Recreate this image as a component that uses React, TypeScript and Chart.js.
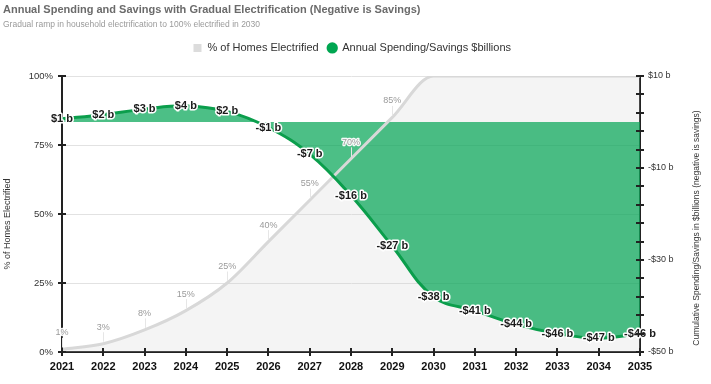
import React, { useEffect, useRef } from 'react';
import { Chart, registerables } from 'chart.js';

Chart.register(...registerables);

const FONT = '"Liberation Sans", Arial, sans-serif';

const TITLE = 'Annual Spending and Savings with Gradual Electrification (Negative is Savings)';
const SUBTITLE = 'Gradual ramp in household electrification to 100% electrified in 2030';
const LEFT_AXIS_TITLE = '% of Homes Electrified';
const RIGHT_AXIS_TITLE = 'Cumulative Spending/Savings in $billions (negative is savings)';

const years = ['2021', '2022', '2023', '2024', '2025', '2026', '2027', '2028', '2029', '2030', '2031', '2032', '2033', '2034', '2035'];
const pctElectrified = [1, 3, 8, 15, 25, 40, 55, 70, 85, 100, 100, 100, 100, 100, 100];
const annualSavings = [0.7, 1.6, 2.8, 3.5, 2.3, -1.2, -7, -16, -27, -38, -41, -44, -46, -47, -46];
const seriesNames = ['% of Homes Electrified', 'Annual Spending/Savings $billions'];
const rightTickLabels = [10, -10, -30, -50];

const GRAY_LINE = '#d8d8d8';
const GRAY_FILL = 'rgba(205,205,205,0.22)';
const GREEN_LINE = '#0b9e4c';
const GREEN_FILL = 'rgba(0,164,82,0.70)';
const legendColors = ['#dcdcdc', '#00a651'];

const fmtBillions = (v: number) => `${v < 0 ? '-' : ''}$${Math.abs(v)} b`;

const overlayPlugin = {
  id: 'overlay',
  afterDatasetsDraw(chart: any) {
    const ctx = chart.ctx;
    const pctMeta = chart.getDatasetMeta(0);
    const savMeta = chart.getDatasetMeta(1);
    ctx.save();
    ctx.textAlign = 'center';
    ctx.textBaseline = 'middle';
    ctx.lineJoin = 'round';
    // percent labels with leader lines
    ctx.font = `9px ${FONT}`;
    pctMeta.data.forEach((pt: any, i: number) => {
      const v = pctElectrified[i];
      if (v >= 100) return;
      const { x, y } = pt;
      ctx.strokeStyle = '#e6e6e6';
      ctx.lineWidth = 1;
      ctx.beginPath();
      ctx.moveTo(Math.round(x) + 0.5, y - 2);
      ctx.lineTo(Math.round(x) + 0.5, y - 11.5);
      ctx.stroke();
      ctx.strokeStyle = 'rgba(255,255,255,0.95)';
      ctx.lineWidth = 2.5;
      ctx.strokeText(`${v}%`, x, y - 16.5);
      ctx.fillStyle = '#9a9a9a';
      ctx.fillText(`${v}%`, x, y - 16.5);
    });
    // savings labels
    ctx.font = `bold 11px ${FONT}`;
    savMeta.data.forEach((pt: any, i: number) => {
      const t = fmtBillions(Math.round(annualSavings[i]));
      ctx.strokeStyle = '#ffffff';
      ctx.lineWidth = 3;
      ctx.strokeText(t, pt.x, pt.y);
      ctx.fillStyle = '#1b1b1b';
      ctx.fillText(t, pt.x, pt.y);
    });
    ctx.restore();
  },
  afterDraw(chart: any) {
    const ctx = chart.ctx;
    const { x, y, y1 } = chart.scales;
    ctx.save();
    ctx.strokeStyle = '#222';
    ctx.lineWidth = 2;
    ctx.beginPath();
    y.ticks.forEach((_: any, i: number) => {
      const p = Math.round(y.getPixelForTick(i));
      ctx.moveTo(y.right - 4, p);
      ctx.lineTo(y.right + 4, p);
    });
    y1.ticks.forEach((_: any, i: number) => {
      const p = Math.round(y1.getPixelForTick(i));
      ctx.moveTo(y1.left - 4, p);
      ctx.lineTo(y1.left + 4, p);
    });
    x.ticks.forEach((_: any, i: number) => {
      const p = Math.round(x.getPixelForTick(i));
      ctx.moveTo(p, x.top - 4);
      ctx.lineTo(p, x.top + 4);
    });
    ctx.stroke();
    // axis titles
    ctx.fillStyle = '#333';
    ctx.textAlign = 'center';
    ctx.textBaseline = 'middle';
    ctx.font = `9px ${FONT}`;
    ctx.translate(8, 224);
    ctx.rotate(-Math.PI / 2);
    ctx.fillText(LEFT_AXIS_TITLE, 0, 0);
    ctx.restore();
    ctx.save();
    ctx.fillStyle = '#333';
    ctx.textAlign = 'center';
    ctx.textBaseline = 'middle';
    ctx.font = `8.5px ${FONT}`;
    ctx.translate(697, 228);
    ctx.rotate(-Math.PI / 2);
    ctx.fillText(RIGHT_AXIS_TITLE, 0, 0);
    ctx.restore();
  },
};

export default function App() {
  const ref = useRef<HTMLCanvasElement | null>(null);
  useEffect(() => {
    if (!ref.current) return;
    const chart = new Chart(ref.current, {
      type: 'line',
      data: {
        labels: years,
        datasets: [
          {
            label: seriesNames[0],
            data: pctElectrified,
            yAxisID: 'y',
            borderColor: GRAY_LINE,
            backgroundColor: GRAY_FILL,
            borderWidth: 3,
            fill: 'origin',
            pointRadius: 0,
            cubicInterpolationMode: 'monotone',
            order: 1,
          },
          {
            label: seriesNames[1],
            data: annualSavings,
            yAxisID: 'y1',
            borderColor: GREEN_LINE,
            backgroundColor: GREEN_FILL,
            borderWidth: 3,
            fill: 'origin',
            pointRadius: 0,
            tension: 0.4,
            order: 0,
          },
        ],
      },
      options: {
        animation: false,
        responsive: true,
        maintainAspectRatio: false,
        layout: { padding: { left: 3, right: 10, top: 0, bottom: 0 } },
        plugins: {
          filler: { drawTime: 'beforeDatasetsDraw' },
          tooltip: { enabled: false },
          title: {
            display: true,
            text: TITLE,
            align: 'start',
            color: '#6b6b6b',
            font: { family: FONT, size: 11, weight: 'bold' },
            padding: { top: 3, bottom: 0 },
          },
          subtitle: {
            display: true,
            text: SUBTITLE,
            align: 'start',
            color: '#9a9a9a',
            font: { family: FONT, size: 8.5 },
            padding: { top: 3, bottom: 4 },
          },
          legend: {
            display: true,
            position: 'top',
            align: 'center',
            labels: {
              usePointStyle: true,
              boxWidth: 9,
              boxHeight: 8,
              padding: 9,
              color: '#333',
              font: { family: FONT, size: 11 },
              generateLabels: (c: any) =>
                c.data.datasets.map((ds: any, i: number) => ({
                  text: ds.label,
                  fillStyle: legendColors[i],
                  strokeStyle: legendColors[i],
                  lineWidth: 0,
                  pointStyle: i === 0 ? 'rect' : 'circle',
                  datasetIndex: i,
                  hidden: false,
                  fontColor: '#333',
                })),
            },
          },
        },
        scales: {
          x: {
            type: 'category',
            offset: false,
            grid: { display: true, drawOnChartArea: false, drawTicks: false },
            border: { display: true, color: '#222', width: 2 },
            ticks: {
              color: '#111',
              font: { family: FONT, size: 11, weight: 'bold' },
              padding: 8,
              maxRotation: 0,
              autoSkip: false,
            },
            afterFit: (s: any) => { s.height = 32; },
          },
          xSpacer: {
            type: 'category',
            position: 'top',
            display: true,
            grid: { display: false, drawTicks: false },
            border: { display: false },
            ticks: { display: false },
            afterFit: (s: any) => { s.height = 12.6; },
          },
          y: {
            position: 'left',
            min: 0,
            max: 100,
            ticks: {
              stepSize: 25,
              callback: (v: any) => `${v}%`,
              color: '#333',
              font: { family: FONT, size: 9.5 },
              padding: 9,
            },
            grid: { color: '#e2e2e2', lineWidth: 1, drawTicks: false },
            border: { display: true, color: '#222', width: 2 },
            afterFit: (s: any) => { s.width = 59; },
          },
          y1: {
            position: 'right',
            min: -50,
            max: 10,
            ticks: {
              stepSize: 4,
              callback: (v: any) => (rightTickLabels.includes(v) ? fmtBillions(v) : ''),
              color: '#333',
              font: { family: FONT, size: 9 },
              padding: 8,
            },
            grid: { drawOnChartArea: false, drawTicks: false },
            border: { display: true, color: '#222', width: 2 },
            afterFit: (s: any) => { s.width = 61; },
          },
        },
      },
      plugins: [overlayPlugin],
    } as any);
    return () => chart.destroy();
  }, []);
  return (
    <div style={{ position: 'absolute', left: 0, top: 0, width: 711, height: 384, background: '#fff' }}>
      <canvas ref={ref} />
    </div>
  );
}
